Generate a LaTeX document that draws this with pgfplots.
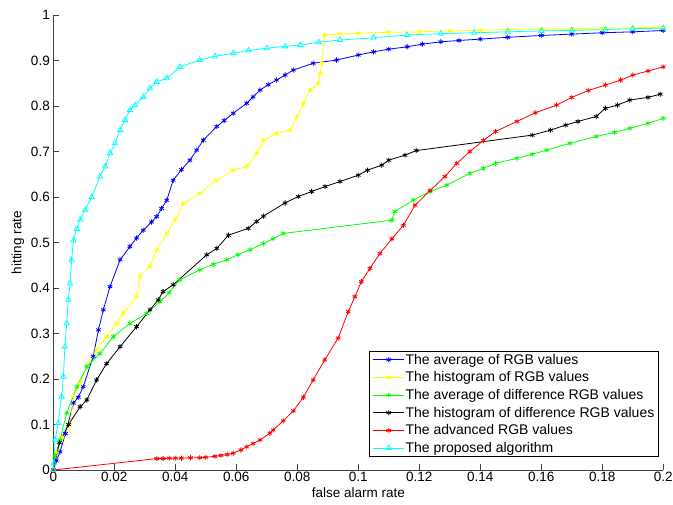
\documentclass[border=0pt]{standalone}
\usepackage{fontspec}
\setmainfont{Liberation Sans}
\usepackage{pgfplots}
\pgfplotsset{compat=1.18}

\definecolor{mblue}{rgb}{0,0,1}
\definecolor{myellow}{rgb}{1,1,0}
\definecolor{mgreen}{rgb}{0,1,0}
\definecolor{mred}{rgb}{1,0,0}
\definecolor{mcyan}{rgb}{0,1,1}

\begin{document}
\begin{tikzpicture}
\begin{axis}[
    scale only axis,
    width=610pt, height=455pt,
    xmin=0, xmax=0.2, ymin=0, ymax=1,
    axis x line=bottom, axis y line=left,
    axis line style={-, black!75, line width=0.8pt},
    tick align=inside,
    major tick length=6pt,
    tick style={black!75, line width=0.8pt},
    xtick={0,0.02,0.04,0.06,0.08,0.1,0.12,0.14,0.16,0.18,0.2},
    xticklabels={0,0.02,0.04,0.06,0.08,0.1,0.12,0.14,0.16,0.18,0.2},
    ytick={0,0.1,0.2,0.3,0.4,0.5,0.6,0.7,0.8,0.9,1},
    yticklabels={0,0.1,0.2,0.3,0.4,0.5,0.6,0.7,0.8,0.9,1},
    ticklabel style={font=\fontsize{13.5}{16}\selectfont},
    xticklabel style={yshift=1pt},
    label style={font=\fontsize{13.5}{16}\selectfont},
    xlabel={false alarm rate},
    ylabel={hitting rate},
    xlabel style={yshift=1pt},
    ylabel style={yshift=0pt},
    every axis plot/.append style={line width=0.8pt, mark size=2.6pt},
    legend image code/.code={\draw[mark repeat=2,mark phase=2,#1] plot coordinates {(0pt,0pt) (15.5pt,0pt) (31pt,0pt)};},
    legend cell align=left,
    legend style={at={(0.9925,0.028)}, anchor=south east, draw=black, line width=0.8pt,
        font=\fontsize{14}{16}\selectfont, row sep=3pt, inner xsep=3pt, inner ysep=1.5pt,
        nodes={inner xsep=1pt, inner ysep=1.5pt}},
]
\coordinate (sw) at (rel axis cs:0,0);
\coordinate (ne) at (rel axis cs:1,1);

% average of RGB values
\addplot[mblue, mark=asterisk] coordinates {
(0,0) (0.001,0.02) (0.0022,0.04) (0.004,0.08) (0.0066,0.147) (0.0082,0.16) (0.0098,0.183)
(0.0131,0.25) (0.0148,0.308) (0.0164,0.352) (0.0186,0.403) (0.0219,0.462) (0.0251,0.491)
(0.0273,0.51) (0.0295,0.527) (0.0322,0.545) (0.0339,0.557) (0.0355,0.575) (0.0372,0.593)
(0.0393,0.637) (0.042,0.66) (0.0448,0.681) (0.047,0.703) (0.0492,0.725) (0.0536,0.755)
(0.056,0.768) (0.059,0.784) (0.0634,0.806) (0.0655,0.82) (0.0678,0.835) (0.0705,0.847)
(0.0732,0.857) (0.076,0.868) (0.0787,0.879) (0.0852,0.894) (0.0929,0.901) (0.100,0.912)
(0.105,0.919) (0.110,0.925) (0.116,0.930) (0.121,0.936) (0.127,0.941) (0.133,0.944)
(0.140,0.947) (0.149,0.951) (0.160,0.955) (0.170,0.958) (0.180,0.961) (0.190,0.963) (0.2,0.966)
};
\addlegendentry{The average of RGB values}

% histogram of RGB values
\addplot[myellow, mark=asterisk] coordinates {
(0,0) (0.001,0.04) (0.003,0.07) (0.0055,0.1) (0.0066,0.161) (0.0088,0.191) (0.011,0.227)
(0.0142,0.264) (0.0175,0.293) (0.0208,0.322) (0.023,0.345) (0.0273,0.381) (0.0284,0.425)
(0.0317,0.447) (0.0339,0.484) (0.0372,0.52) (0.040,0.55) (0.0426,0.586) (0.048,0.608)
(0.0536,0.637) (0.059,0.659) (0.0634,0.667) (0.0667,0.696) (0.0689,0.725) (0.0732,0.740)
(0.0776,0.747) (0.0798,0.776) (0.082,0.806) (0.0842,0.835) (0.0869,0.85) (0.0875,0.872)
(0.088,0.894) (0.089,0.956) (0.094,0.958) (0.100,0.960) (0.110,0.962) (0.120,0.963)
(0.130,0.965) (0.140,0.966) (0.149,0.968) (0.160,0.969) (0.170,0.970) (0.180,0.971)
(0.190,0.972) (0.2,0.973)
};
\addlegendentry{The histogram of RGB values}

% average of difference RGB values
\addplot[mgreen, mark=asterisk] coordinates {
(0,0) (0.0005,0.03) (0.0022,0.066) (0.0044,0.125) (0.0077,0.183) (0.011,0.227) (0.0153,0.256)
(0.0197,0.293) (0.0251,0.322) (0.0306,0.344) (0.035,0.37) (0.038,0.39) (0.0415,0.418)
(0.048,0.44) (0.0525,0.452) (0.0569,0.462) (0.0605,0.473) (0.0645,0.484) (0.0689,0.498)
(0.072,0.508) (0.0754,0.52) (0.111,0.549) (0.112,0.568) (0.118,0.593) (0.1235,0.612)
(0.129,0.626) (0.1366,0.652) (0.141,0.663) (0.145,0.674) (0.152,0.685) (0.157,0.694)
(0.1618,0.703) (0.1694,0.718) (0.178,0.733) (0.184,0.742) (0.189,0.751) (0.195,0.762) (0.2,0.773)
};
\addlegendentry{The average of difference RGB values}

% histogram of difference RGB values
\addplot[black, mark=asterisk] coordinates {
(0,0) (0.002,0.06) (0.005,0.1) (0.0088,0.139) (0.011,0.154) (0.0142,0.198) (0.0175,0.234)
(0.0219,0.271) (0.0273,0.315) (0.0317,0.352) (0.0344,0.374) (0.036,0.392) (0.0393,0.407)
(0.0503,0.473) (0.0536,0.487) (0.0574,0.516) (0.0639,0.531) (0.0667,0.546) (0.0689,0.558)
(0.076,0.587) (0.0803,0.601) (0.0847,0.612) (0.0891,0.623) (0.094,0.634) (0.100,0.648)
(0.103,0.659) (0.1077,0.670) (0.110,0.681) (0.1153,0.692) (0.119,0.702) (0.157,0.736)
(0.163,0.747) (0.168,0.758) (0.172,0.766) (0.178,0.777) (0.181,0.795) (0.185,0.802)
(0.189,0.813) (0.195,0.819) (0.199,0.826)
};
\addlegendentry{The histogram of difference RGB values}

% advanced RGB values
\addplot[mred, mark=asterisk] coordinates {
(0,0) (0.0339,0.025) (0.036,0.025) (0.038,0.026) (0.040,0.026) (0.042,0.026) (0.045,0.027)
(0.048,0.027) (0.050,0.028) (0.053,0.030) (0.055,0.032) (0.057,0.034) (0.059,0.037)
(0.0615,0.044) (0.0634,0.051) (0.0655,0.058) (0.0678,0.066) (0.071,0.081) (0.0721,0.088)
(0.0754,0.108) (0.0787,0.13) (0.082,0.16) (0.0852,0.198) (0.089,0.242) (0.0934,0.29)
(0.0967,0.348) (0.0989,0.381) (0.101,0.414) (0.1038,0.443) (0.1071,0.476) (0.111,0.508)
(0.1148,0.538) (0.1186,0.582) (0.1235,0.614) (0.1284,0.645) (0.1323,0.674) (0.1366,0.70)
(0.141,0.724) (0.145,0.744) (0.152,0.766) (0.158,0.785) (0.165,0.802) (0.170,0.819)
(0.1754,0.834) (0.181,0.846) (0.186,0.857) (0.190,0.868) (0.195,0.877) (0.2,0.886)
};
\addlegendentry{The advanced RGB values}

% proposed algorithm
\addplot[mcyan, mark=triangle, mark size=3pt] coordinates {
(0,0) (0.0002,0.015) (0.0006,0.066) (0.0016,0.103) (0.0027,0.161) (0.0033,0.205)
(0.0038,0.271) (0.0044,0.322) (0.0049,0.374) (0.0055,0.41) (0.006,0.462) (0.0066,0.505)
(0.0077,0.53) (0.0088,0.55) (0.0104,0.571) (0.0126,0.60) (0.0153,0.645) (0.017,0.667)
(0.0186,0.696) (0.0202,0.718) (0.0219,0.747) (0.0235,0.769) (0.0251,0.791) (0.0268,0.802)
(0.0295,0.820) (0.0317,0.839) (0.0339,0.853) (0.0372,0.861) (0.0415,0.886) (0.048,0.901)
(0.053,0.909) (0.059,0.916) (0.064,0.922) (0.070,0.927) (0.076,0.931) (0.081,0.934)
(0.087,0.940) (0.094,0.945) (0.105,0.950) (0.116,0.956) (0.127,0.959) (0.138,0.961)
(0.149,0.963) (0.160,0.965) (0.170,0.966) (0.181,0.968) (0.190,0.970) (0.2,0.971)
};
\addlegendentry{The proposed algorithm}
\end{axis}
\pgfresetboundingbox
\path ([xshift=-53.3pt,yshift=-34pt]sw) rectangle ([xshift=9.7pt,yshift=15pt]ne);
\end{tikzpicture}
\end{document}
